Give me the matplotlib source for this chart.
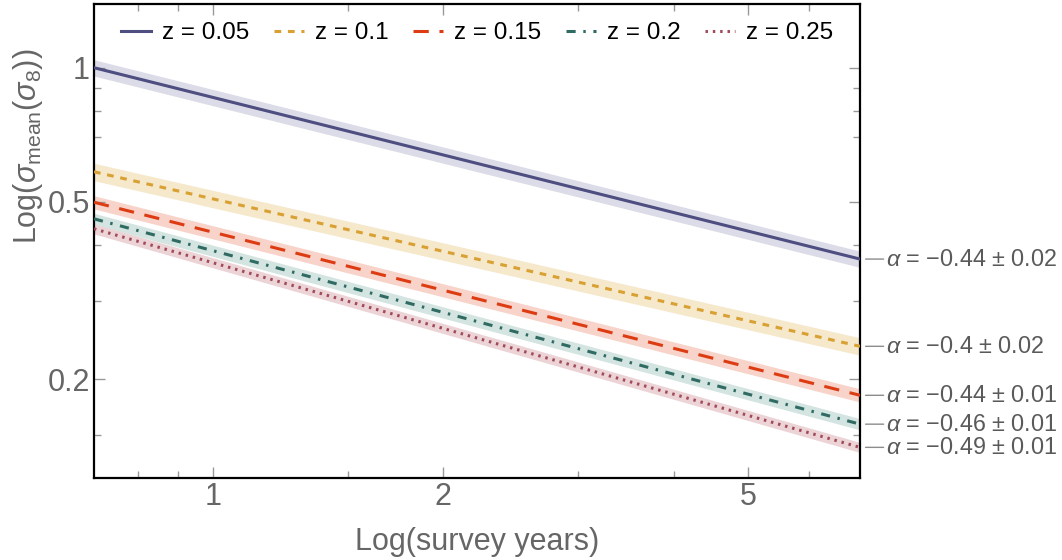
import matplotlib
matplotlib.use('Agg')
import matplotlib.pyplot as plt
from matplotlib.ticker import FixedLocator, NullFormatter

plt.rcParams['font.family'] = ['Liberation Sans', 'DejaVu Sans']
plt.rcParams['mathtext.fontset'] = 'custom'
plt.rcParams['mathtext.rm'] = 'Liberation Sans'
plt.rcParams['mathtext.it'] = 'Liberation Sans:italic'

# data (power-law fits, end points of each line)
years = [0.7, 7.0]
redshifts = ['0.05', '0.1', '0.15', '0.2', '0.25']
sigma_start = [1.0, 0.584, 0.499, 0.458, 0.435]
sigma_end = [0.372, 0.237, 0.184, 0.1585, 0.1406]
band_frac = [0.042, 0.045, 0.034, 0.029, 0.026]
alpha_labels = ['\u22120.44 \u00b1 0.02', '\u22120.4 \u00b1 0.02', '\u22120.44 \u00b1 0.01',
                '\u22120.46 \u00b1 0.01', '\u22120.49 \u00b1 0.01']

line_colors = ['#4e4e80', '#d9a033', '#dd3c12', '#2f6b63', '#a04a5a']
band_colors = ['#dcdce9', '#f5e8cb', '#f7d3c9', '#d3e4e1', '#ecd3d6']
styles = ['-', (0, (2.2, 2.2)), (0, (5, 3.5)), (0, (3, 2.5, 0.8, 2.5)), (0, (0.8, 1.6))]

text_gray = '#666666'
tick_gray = '#999999'

fig = plt.figure(figsize=(10.62, 5.6), dpi=100)
ax = fig.add_axes([0.0885, 0.1464, 0.7213, 0.8465])
ax.set_xscale('log')
ax.set_yscale('log')

for i in range(len(redshifts)):
    ys = [sigma_start[i], sigma_end[i]]
    lo = [v * (1 - band_frac[i]) for v in ys]
    hi = [v * (1 + band_frac[i]) for v in ys]
    ax.fill_between(years, lo, hi, color=band_colors[i], lw=0, zorder=1)
    ax.plot(years, ys, color=line_colors[i], ls=styles[i], lw=2.2,
            label='z = ' + redshifts[i], zorder=3, dash_capstyle='butt')
    ax.annotate(r'$\alpha$ = ' + alpha_labels[i], xy=(years[1], sigma_end[i]),
                xycoords='data', xytext=(19, 0), textcoords='offset points',
                va='center', ha='left', fontsize=16.8, color='#5a5a5a',
                annotation_clip=False,
                arrowprops=dict(arrowstyle='-', color='#8c8c8c', lw=1,
                                shrinkA=0, shrinkB=4))

ax.set_xlim(0.7, 7.0)
ax.set_ylim(0.12, 1.39)

ax.xaxis.set_major_locator(FixedLocator([1, 2, 5]))
ax.xaxis.set_minor_locator(FixedLocator([0.8, 0.9, 1.5, 3, 4, 6]))
ax.yaxis.set_major_locator(FixedLocator([0.2, 0.5, 1]))
ax.yaxis.set_minor_locator(FixedLocator([0.15, 0.3, 0.4, 0.7, 0.8, 0.9]))
ax.set_xticklabels(['1', '2', '5'])
ax.set_yticklabels(['0.2', '0.5', '1'])
ax.xaxis.set_minor_formatter(NullFormatter())
ax.yaxis.set_minor_formatter(NullFormatter())

ax.tick_params(which='both', direction='in', top=True, right=True,
               color=tick_gray, labelcolor=text_gray, labelsize=22, width=1)
ax.tick_params(which='major', length=8)
ax.tick_params(which='minor', length=5)
ax.tick_params(axis='x', pad=3)
ax.tick_params(axis='y', pad=3)

for sp in ax.spines.values():
    sp.set_linewidth(1.6)
    sp.set_color('black')

ax.set_xlabel('Log(survey years)', fontsize=22, color=text_gray, labelpad=11)
ax.set_ylabel(r'Log($\sigma_{\rm mean}(\sigma_8)$)', fontsize=22, color=text_gray)
ax.yaxis.set_label_coords(-0.064, 0.70)

ax.legend(loc='upper center', bbox_to_anchor=(0.5, 1.0), ncol=5, frameon=False,
          fontsize=17.5, handlelength=1.25, handletextpad=0.45, columnspacing=1.0,
          borderaxespad=0.35)

fig.savefig('out.png', dpi=100)
